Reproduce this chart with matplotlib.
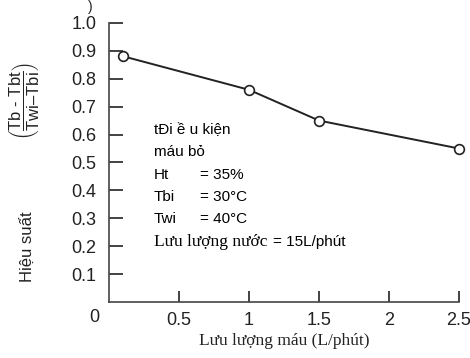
import matplotlib
matplotlib.use('Agg')
import matplotlib.pyplot as plt

# Blood flow rate (L/min) vs efficiency
flow = [0.1, 1.0, 1.5, 2.5]
efficiency = [0.88, 0.76, 0.65, 0.55]

x_ticks = [0.5, 1, 1.5, 2, 2.5]
x_ticklabels = ['0.5', '1', '1.5', '2', '2.5']
y_ticks = [0.1, 0.2, 0.3, 0.4, 0.5, 0.6, 0.7, 0.8, 0.9, 1.0]

cond_names = ['Ht', 'Tbi', 'Twi']
cond_values = ['= 35%', '= 30°C', '= 40°C']

plt.rcParams['font.family'] = ['Liberation Sans', 'DejaVu Sans']
plt.rcParams['mathtext.fontset'] = 'custom'
plt.rcParams['mathtext.rm'] = 'Liberation Sans'

fig = plt.figure(figsize=(4.7, 3.58), dpi=100)
ax = fig.add_axes([0.2319, 0.1556, 0.7447, 0.781])

ax.plot(flow, efficiency, color='#222222', lw=1.4, marker='o', ms=7,
        mfc='white', mec='#222222', mew=1.2, clip_on=False, zorder=3)

ax.set_xlim(0, 2.5)
ax.set_ylim(0, 1.0)
ax.set_xticks(x_ticks)
ax.set_xticklabels(x_ticklabels)
ax.set_yticks(y_ticks)
ax.set_yticklabels(['%.1f' % v for v in y_ticks])
ax.tick_params(axis='x', direction='in', length=8, width=1.2, pad=7,
               labelsize=13, colors='#222222')
ax.tick_params(axis='y', direction='in', length=10, width=1.2, pad=9,
               labelsize=13, colors='#222222')
for s in ['top', 'right']:
    ax.spines[s].set_visible(False)
for s in ['left', 'bottom']:
    ax.spines[s].set_linewidth(1.2)
    ax.spines[s].set_color('#444444')

# the lone "0" below the origin
fig.text(94 / 470, 1 - 318 / 358, '0', fontsize=13, ha='center',
         va='center', color='#222222')

ax.set_xlabel('Lưu lượng máu (L/phút)', family='Liberation Serif',
              fontsize=12.5, labelpad=3, color='#222222')

fig.text(27 / 470, 1 - 247 / 358, 'Hiệu suất', rotation=90, fontsize=12,
         ha='center', va='center', color='#222222')
fig.text(24 / 470, 1 - 101 / 358,
         r'$\left(\dfrac{\text{Tb - Tbt}}{\text{Twi–Tbi}}\right)$',
         rotation=90, fontsize=12, ha='center', va='center', color='#222222')
fig.text(90 / 470, 1 - 7 / 358, ')', fontsize=10, ha='center', va='center',
         color='#222222')

# operating conditions
tx = 0.322
fs = 11
ax.text(tx, 0.616, 'tĐi ề u kiện', fontsize=fs, va='center')
ax.text(tx, 0.538, 'máu bỏ', fontsize=fs, va='center')
for i, (n, v) in enumerate(zip(cond_names, cond_values)):
    yy = 0.455 - i * 0.079
    ax.text(tx, yy, n, fontsize=fs, va='center')
    ax.text(0.652, yy, v, fontsize=fs, va='center')
ax.text(tx, 0.216, 'Lưu lượng nước', family='Liberation Serif',
        fontsize=12.5, va='center')
ax.text(1.175, 0.216, '= 15L/phút', fontsize=fs, va='center')

fig.savefig('out.png', dpi=100)
